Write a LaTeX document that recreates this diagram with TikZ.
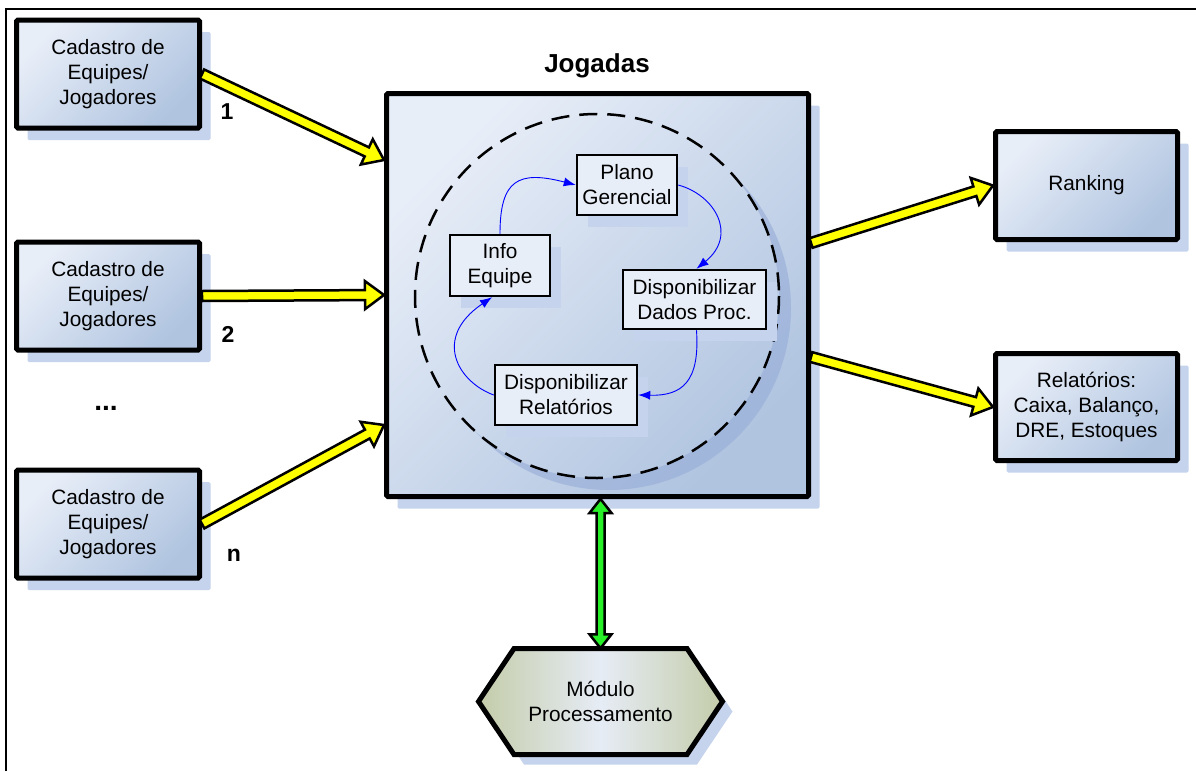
\documentclass[tikz,border=0pt]{standalone}
\usepackage{fontspec}
\setmainfont{Liberation Sans}
\usetikzlibrary{arrows.meta,shadows,calc}
\definecolor{bxlight}{RGB}{232,238,248}
\definecolor{bxdark}{RGB}{176,196,224}
\definecolor{shcol}{RGB}{198,211,236}
\definecolor{circsh}{RGB}{150,172,216}
\definecolor{innerfill}{RGB}{232,238,248}
\definecolor{olv}{RGB}{196,204,170}
\definecolor{hexmid}{RGB}{230,236,245}
\definecolor{yel}{RGB}{255,255,0}
\definecolor{grn}{RGB}{40,240,40}
\definecolor{bluearr}{RGB}{0,0,255}
\tikzset{
  txt/.style={align=center, font=\fontsize{20.8}{25}\selectfont},
  bigbox/.style={txt, draw=black, line width=5pt, rounded corners=1.5pt, inner sep=0pt,
    left color=bxlight, right color=bxdark, shading angle=45,
    general shadow={fill=shcol, shadow xshift=11pt, shadow yshift=-12pt}},
  innerbox/.style={txt, draw=black, line width=2.5pt, fill=innerfill, inner sep=0pt,
    general shadow={fill=shcol, shadow xshift=11pt, shadow yshift=-12pt}},
  numlabel/.style={font=\bfseries\fontsize{23}{27}\selectfont},
  yarrow/.style={draw=black, line width=2.5pt, fill=yel, line join=miter},
  garrow/.style={draw=black, line width=2.5pt, fill=grn, line join=miter},
  blink/.style={draw=bluearr, line width=0.9pt, -{Latex[length=12pt,width=9pt]}},
}
% #1 style, #2 start, #3 end, #4 shaft half width, #5 head half width, #6 head length
\newcommand\fatarrow[6]{%
  \path let \p1=(#2), \p2=(#3), \n1={atan2(\y2-\y1,\x2-\x1)}, \n2={veclen(\x2-\x1,\y2-\y1)} in
    \pgfextra{\xdef\faang{\n1}\xdef\falen{\n2}\xdef\fax{\x1}\xdef\fay{\y1}};
  \begin{scope}[shift={(\fax,\fay)}, rotate=\faang]
    \draw[#1] (0,#4) -- (\falen-#6,#4) -- (\falen-#6,#5) -- (\falen,0)
      -- (\falen-#6,-#5) -- (\falen-#6,-#4) -- (0,-#4) -- cycle;
  \end{scope}}
\newcommand\dblarrow[6]{%
  \path let \p1=(#2), \p2=(#3), \n1={atan2(\y2-\y1,\x2-\x1)}, \n2={veclen(\x2-\x1,\y2-\y1)} in
    \pgfextra{\xdef\faang{\n1}\xdef\falen{\n2}\xdef\fax{\x1}\xdef\fay{\y1}};
  \begin{scope}[shift={(\fax,\fay)}, rotate=\faang]
    \draw[#1] (0,0) -- (#6,#5) -- (#6,#4) -- (\falen-#6,#4) -- (\falen-#6,#5) -- (\falen,0)
      -- (\falen-#6,-#5) -- (\falen-#6,-#4) -- (#6,-#4) -- (#6,-#5) -- cycle;
  \end{scope}}
\begin{document}
\begin{tikzpicture}[x=1pt, y=-1pt]
\useasboundingbox (0,0) rectangle (1196,771);
\fill[white] (0,0) rectangle (1196,771);
% frame
\draw[line width=1.5pt] (6,771) -- (6,9) -- (1196,9);

% left boxes
\node[bigbox, minimum width=183pt, minimum height=108pt] (c1) at (108,74) {Cadastro de\\Equipes/\\Jogadores};
\node[bigbox, minimum width=183pt, minimum height=108pt] (c2) at (108,296) {Cadastro de\\Equipes/\\Jogadores};
\node[bigbox, minimum width=183pt, minimum height=108pt] (c3) at (108,524) {Cadastro de\\Equipes/\\Jogadores};

% main box
\node[bigbox, minimum width=422pt, minimum height=403pt] (main) at (597.5,295) {};
\node[font=\bfseries\fontsize{26}{30}\selectfont] (title) at (597,66) {Jogadas};

% circle shadow and dashed circle
\fill[circsh, opacity=0.6] (609,308) circle (182);
\begin{scope}
  \clip (597,296) circle (182);
  \shade[left color=bxlight, right color=bxdark, shading angle=45, rounded corners=1.5pt]
    (main.north west) rectangle (main.south east);
\end{scope}
\draw[line width=2.5pt, dash pattern=on 18pt off 10pt] (597,296) circle (182);

% right boxes
\node[bigbox, minimum width=182pt, minimum height=108pt] (rk) at (1086.5,185.5) {Ranking};
\node[bigbox, minimum width=182pt, minimum height=107pt] (rel) at (1086.5,407) {Relatórios:\\Caixa, Balanço,\\DRE, Estoques};

% inner boxes
\node[innerbox, minimum width=100pt, minimum height=60pt] (pg) at (627,185) {Plano\\Gerencial};
\node[innerbox, minimum width=100pt, minimum height=61pt] (ie) at (500,265.5) {Info\\Equipe};
\node[innerbox, minimum width=143pt, minimum height=59pt] (dd) at (694.5,299.5) {Disponibilizar\\Dados Proc.};
\node[innerbox, minimum width=142pt, minimum height=60pt] (dr) at (566,395) {Disponibilizar\\Relatórios};

% blue cycle arrows
\draw[blink] (ie.north) .. controls (500,180) and (518,170) .. (pg.west);
\draw[blink] (pg.east) .. controls (715,195) and (738,235) .. ([xshift=2pt]dd.north);
\draw[blink] ([xshift=2pt]dd.south) .. controls (700,382) and (682,396) .. (dr.east);
\draw[blink] (dr.west) .. controls (458,382) and (432,338) .. ([xshift=-8pt]ie.south);

% processing module
\node[txt, minimum width=244pt, minimum height=106pt, inner sep=0pt] (mp) at (600.5,701.5) {};
\fill[shcol] (488.5,711.5) -- (524,658.5) -- (697,658.5) -- (732.5,711.5) -- (697,764.5) -- (524,764.5) -- cycle;
\shade[left color=olv, right color=olv, middle color=hexmid]
  (478.5,701.5) -- (514,648.5) -- (687,648.5) -- (722.5,701.5) -- (687,754.5) -- (514,754.5) -- cycle;
\draw[line width=5pt, line join=miter]
  (478.5,701.5) -- (514,648.5) -- (687,648.5) -- (722.5,701.5) -- (687,754.5) -- (514,754.5) -- cycle;
\node[txt, inner sep=0pt] (mptext) at (mp.center) {Módulo\\Processamento};

% yellow arrows
\fatarrow{yarrow}{c1.east}{[yshift=135pt]main.west}{5}{14}{19}
\fatarrow{yarrow}{c2.east}{main.west}{5}{14}{19}
\fatarrow{yarrow}{c3.east}{[yshift=-130pt]main.west}{5}{14}{19}
\fatarrow{yarrow}{[yshift=52pt]main.east}{rk.west}{5}{14}{19}
\fatarrow{yarrow}{[yshift=-62pt]main.east}{rel.west}{5}{14}{19}

% green double arrow
\dblarrow{garrow}{[xshift=3pt]main.south}{mp.north}{4}{11}{14}

% labels
\node[numlabel] (l1) at (227,112) {1};
\node[numlabel] (l2) at (228,334) {2};
\node[font=\bfseries\fontsize{28}{30}\selectfont] (ld) at (106,408) {...};
\node[numlabel] (ln) at (234,555) {n};
\end{tikzpicture}
\end{document}
